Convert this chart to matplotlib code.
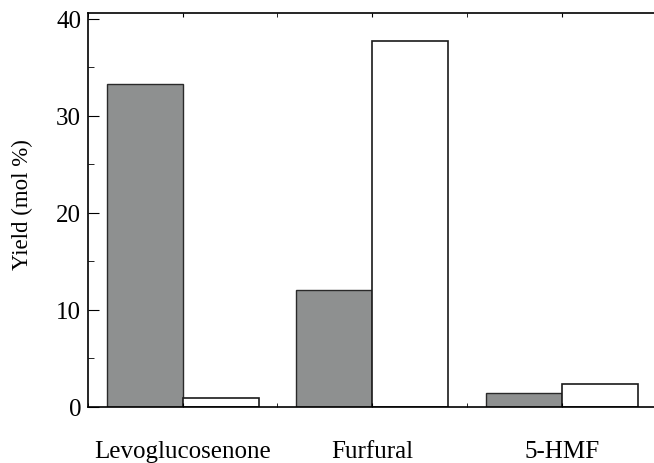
import numpy as np
import matplotlib
matplotlib.use('Agg')
import matplotlib.pyplot as plt
from matplotlib.ticker import MultipleLocator

plt.rcParams['font.family'] = 'Liberation Serif'

# data
categories = ['Levoglucosenone', 'Furfural', '5-HMF']
grey_vals = [33.3, 12.05, 1.4]
white_vals = [0.87, 37.7, 2.34]

fig = plt.figure(figsize=(6.54, 4.64), dpi=100)
ax = fig.add_axes([88/654, 1-407.7/464, 568.5/654, (407.7-14)/464])

x = np.arange(len(categories))
w = 0.4
ax.bar(x - w/2, grey_vals, width=w, color='#8e9090', edgecolor='#2a2a2a', linewidth=1.0)
ax.bar(x + w/2, white_vals, width=w, color='white', edgecolor='#1a1a1a', linewidth=1.2)

ax.set_xlim(-0.5, 2.5)
ax.set_ylim(0, 40.6)
ax.set_xticks(x)
ax.set_xticklabels(categories, fontsize=18)
ax.xaxis.set_minor_locator(MultipleLocator(0.5))
ax.yaxis.set_major_locator(MultipleLocator(10))
ax.yaxis.set_minor_locator(MultipleLocator(5))
ax.tick_params(which='both', direction='in', top=True, right=False, labelsize=18)
ax.tick_params(axis='x', which='major', length=3, pad=24)
ax.tick_params(axis='x', which='minor', length=3)
ax.tick_params(axis='y', which='major', length=8, pad=5)
ax.tick_params(axis='y', which='minor', length=4)
ax.set_ylabel('Yield (mol %)', fontsize=16.5)
ax.yaxis.set_label_coords(-0.097, 0.517)
for s in ['left', 'bottom', 'top']:
    ax.spines[s].set_linewidth(1.2)
ax.spines['right'].set_visible(False)

fig.savefig('out.png', dpi=100)
